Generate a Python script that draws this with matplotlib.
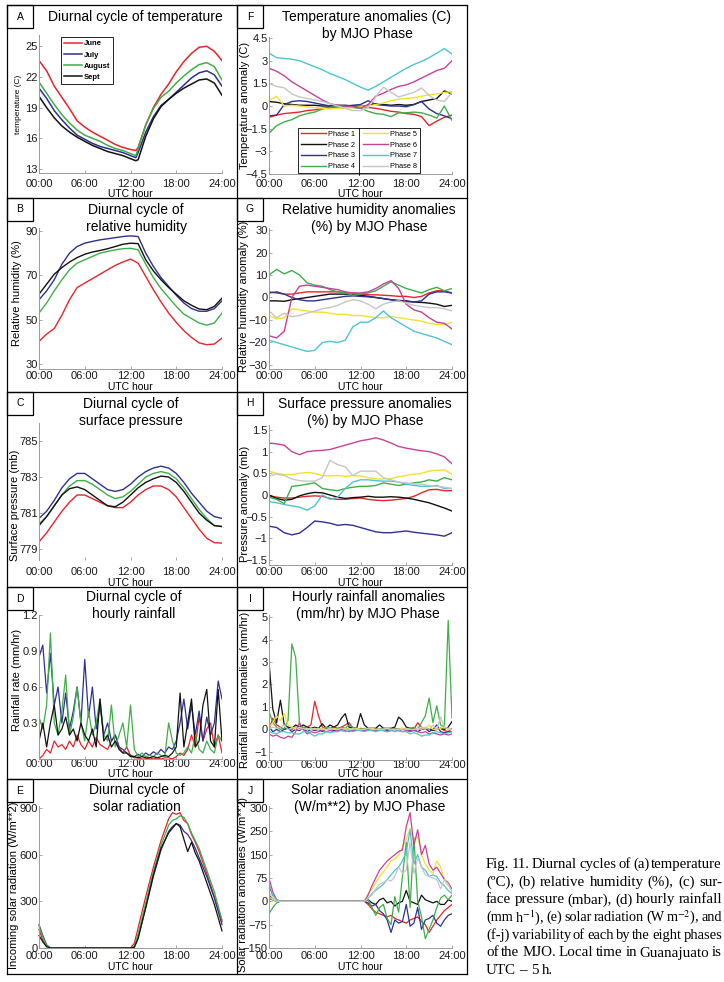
import matplotlib
matplotlib.use("Agg")
import matplotlib.pyplot as plt
from matplotlib.lines import Line2D
from matplotlib.patches import Rectangle

# ---------------------------------------------------------------------------
# data
hours = list(range(25))
hours_a = list(range(13)) + [12.7] + list(range(13, 25))
hours_half = [h / 2 for h in range(49)]
hours_e = [0, 0.5, 1, 1.5, 2, 12, 12.5, 13, 14, 15, 16, 17, 17.5, 18, 18.5, 19, 19.5, 20, 20.5, 21, 22, 23, 24]
hours_j = [0, 0.5, 1, 1.5, 2] + [12 + h / 2 for h in range(25)]

months = ["June", "July", "August", "Sept"]
phases = ["Phase 1", "Phase 2", "Phase 3", "Phase 4", "Phase 5", "Phase 6", "Phase 7", "Phase 8"]

# A: temperature (C)
temp_june = [23.6, 22.6, 21.1, 20.0, 18.9, 17.7, 17.1, 16.6, 16.2, 15.8, 15.4, 15.1, 14.9, 14.8,
             15.1, 17.3, 19.0, 20.3, 21.3, 22.5, 23.5, 24.3, 24.9, 25.0, 24.5, 23.6]
temp_july = [20.9, 19.9, 18.7, 17.8, 17.0, 16.3, 15.9, 15.5, 15.2, 15.0, 14.8, 14.6, 14.3, 14.1,
             14.6, 16.6, 18.1, 19.2, 19.8, 20.5, 21.2, 21.9, 22.4, 22.6, 22.2, 21.1]
temp_aug = [21.5, 20.4, 19.3, 18.3, 17.5, 16.8, 16.3, 16.0, 15.7, 15.3, 15.0, 14.8, 14.5, 14.3,
            15.0, 17.3, 18.9, 20.0, 20.6, 21.4, 22.1, 22.7, 23.2, 23.4, 23.0, 21.7]
temp_sept = [20.1, 19.0, 18.0, 17.2, 16.6, 16.1, 15.7, 15.3, 15.0, 14.7, 14.5, 14.3, 14.0, 13.8,
             13.9, 16.2, 17.9, 19.1, 19.8, 20.4, 20.9, 21.3, 21.7, 21.8, 21.4, 20.2]

# B: relative humidity (%)
rh_june = [40.2, 43.5, 46, 52, 59, 64.5, 66.5, 68.5, 70.5, 72.5, 74.5, 76, 77.3, 75.5, 69.5, 63.5,
           58, 53, 48.8, 45, 42, 39.5, 38.7, 39, 41.7]
rh_july = [59, 63, 68, 75, 80, 83, 84.5, 85.3, 86, 86.5, 87, 87.5, 87.8, 87.5, 80, 74, 69, 65, 61,
           57.5, 55, 53.8, 53.8, 55, 58.5]
rh_aug = [53, 57.5, 63, 68, 72.5, 75.5, 77, 78.5, 80, 80.8, 81.5, 82, 82.2, 81.5, 75, 69, 64, 60,
          56, 52.5, 50.5, 48.5, 47.5, 48.5, 53]
rh_sept = [61.5, 66, 70.5, 73.5, 76, 78, 79.5, 80.5, 81.2, 82, 83, 84, 84.5, 84.3, 77, 72, 68, 64.5,
           61.5, 58.5, 56.5, 54.8, 54.5, 56, 59.7]

# C: surface pressure (mb)
p_june = [779.4, 779.9, 780.5, 781.1, 781.6, 782.0, 782.0, 781.8, 781.6, 781.4, 781.3, 781.3, 781.6,
          782.0, 782.3, 782.5, 782.5, 782.3, 781.9, 781.3, 780.7, 780.1, 779.6, 779.35, 779.33]
p_july = [780.7, 781.1, 781.7, 782.4, 782.9, 783.2, 783.2, 782.9, 782.6, 782.3, 782.2, 782.3, 782.6,
          783.0, 783.3, 783.5, 783.6, 783.5, 783.2, 782.7, 782.1, 781.6, 781.1, 780.8, 780.7]
p_aug = [780.4, 780.8, 781.4, 782.0, 782.5, 782.8, 782.8, 782.6, 782.3, 782.0, 781.8, 781.9, 782.2,
         782.6, 783.0, 783.2, 783.3, 783.2, 782.9, 782.4, 781.8, 781.2, 780.7, 780.3, 780.25]
p_sept = [780.3, 780.8, 781.4, 782.0, 782.35, 782.45, 782.3, 782.0, 781.7, 781.4, 781.35, 781.6, 782.0,
          782.4, 782.7, 782.9, 783.05, 783.0, 782.7, 782.2, 781.6, 781.0, 780.6, 780.3, 780.25]

# D: hourly rainfall (mm/hr), half-hourly
rain_june = [0.0, 0.03, 0.08, 0.05, 0.15, 0.1, 0.12, 0.08, 0.15, 0.1,
             0.2, 0.12, 0.08, 0.15, 0.1, 0.18, 0.12, 0.1, 0.08, 0.15,
             0.2, 0.1, 0.05, 0.1, 0.03, 0.01, 0.01, 0.0, 0.0, 0.01,
             0.0, 0.01, 0.0, 0.01, 0.01, 0.0, 0.02, 0.05, 0.03, 0.08,
             0.2, 0.1, 0.35, 0.15, 0.25, 0.3, 0.1, 0.2, 0.05]
rain_july = [0.85, 0.95, 0.55, 0.88, 0.45, 0.6, 0.3, 0.55, 0.25, 0.4,
             0.6, 0.3, 0.83, 0.35, 0.6, 0.25, 0.45, 0.2, 0.3, 0.15,
             0.2, 0.1, 0.08, 0.05, 0.03, 0.02, 0.04, 0.02, 0.05, 0.03,
             0.06, 0.04, 0.08, 0.05, 0.1, 0.08, 0.15, 0.3, 0.5, 0.25,
             0.45, 0.2, 0.4, 0.15, 0.35, 0.2, 0.3, 0.65, 0.5]
rain_aug = [0.35, 0.25, 0.45, 1.05, 0.3, 0.2, 0.4, 0.7, 0.2, 0.35,
            0.6, 0.3, 0.15, 0.4, 0.2, 0.3, 0.5, 0.2, 0.15, 0.45,
            0.1, 0.2, 0.3, 0.1, 0.45, 0.08, 0.02, 0.05, 0.02, 0.03,
            0.02, 0.05, 0.03, 0.02, 0.3, 0.15, 0.05, 0.03, 0.05, 0.1,
            0.05, 0.2, 0.08, 0.05, 0.15, 0.08, 0.05, 0.2, 0.15]
rain_sept = [0.15, 0.3, 0.1, 0.3, 0.45, 0.2, 0.25, 0.35, 0.2, 0.25,
             0.15, 0.3, 0.2, 0.15, 0.25, 0.1, 0.5, 0.15, 0.2, 0.1,
             0.15, 0.08, 0.05, 0.05, 0.02, 0.02, 0.01, 0.02, 0.01, 0.01,
             0.02, 0.01, 0.02, 0.03, 0.02, 0.05, 0.1, 0.55, 0.1, 0.3,
             0.5, 0.1, 0.15, 0.45, 0.58, 0.15, 0.1, 0.58, 0.15]

# E: incoming solar radiation (W/m**2)
sol_june = [120, 50, 10, 0, 0, 0, 30, 130, 330, 520, 690, 830, 870, 860, 870, 820, 800, 730, 680, 620, 480, 330, 170]
sol_july = [150, 80, 20, 0, 0, 0, 5, 70, 260, 460, 630, 750, 780, 800, 790, 750, 730, 690, 640, 580, 460, 320, 150]
sol_aug = [140, 70, 15, 0, 0, 0, 10, 90, 290, 490, 660, 790, 820, 830, 850, 840, 800, 740, 690, 640, 500, 360, 180]
sol_sept = [80, 40, 8, 0, 0, 0, 5, 60, 260, 470, 640, 740, 770, 800, 780, 700, 620, 680, 610, 560, 420, 280, 110]

# F: temperature anomalies (C) by MJO phase, hourly
tanom = [
    [-0.75, -0.6, -0.5, -0.45, -0.4, -0.3, -0.25, -0.15, -0.1, -0.05, 0.0, 0.0, 0.0, -0.1, -0.15, -0.25,
     -0.35, -0.4, -0.5, -0.55, -0.7, -1.3, -1.0, -0.75, -0.6],
    [0.3, 0.25, 0.15, 0.1, 0.05, 0.05, 0.05, 0.0, 0.0, 0.05, 0.05, 0.0, -0.05, 0.05, 0.15, 0.1, 0.05,
     0.1, 0.05, 0.1, 0.3, 0.4, 0.5, 1.0, 0.8],
    [-0.65, -0.6, 0.1, 0.3, 0.35, 0.3, 0.2, 0.1, 0.0, -0.05, 0.0, 0.05, 0.1, 0.35, 0.1, 0.05, 0.0, 0.0,
     -0.05, 0.1, 0.3, -0.2, -0.5, -0.65, -0.85],
    [-1.8, -1.3, -1.05, -0.9, -0.65, -0.5, -0.4, -0.2, -0.1, 0.0, -0.05, -0.1, -0.15, -0.35, -0.5, -0.55,
     -0.7, -0.45, -0.45, -0.4, -0.45, -0.6, -0.8, 0.0, -0.95],
    [0.35, 0.65, 0.0, 0.05, 0.0, -0.05, -0.1, -0.15, -0.2, -0.15, -0.15, -0.1, -0.05, 0.0, 0.1, 0.2, 0.35,
     0.45, 0.5, 0.55, 0.65, 0.75, 0.8, 0.9, 0.95],
    [2.5, 2.3, 2.0, 1.6, 1.3, 1.0, 0.7, 0.4, 0.15, 0.05, 0.0, -0.05, -0.15, 0.1, 0.65, 0.85, 1.1, 1.3, 1.4,
     1.6, 1.85, 2.1, 2.35, 2.5, 3.0],
    [3.5, 3.2, 3.15, 3.1, 3.0, 2.8, 2.6, 2.4, 2.15, 1.95, 1.75, 1.5, 1.25, 1.05, 1.3, 1.6, 1.9, 2.2, 2.5,
     2.75, 2.95, 3.2, 3.5, 3.8, 3.45],
    [1.5, 1.3, 1.2, 0.8, 0.6, 0.5, 0.4, 0.3, 0.15, 0.0, -0.15, -0.3, -0.3, -0.1, 0.6, 1.25, 0.9, 0.6, 0.75,
     0.9, 1.2, 0.7, 0.4, 0.3, 0.9],
]

# G: relative humidity anomalies (%) by MJO phase, hourly
rhanom = [
    [2.5, 2, 1.5, 1.5, 2, 2.5, 2.5, 2.5, 2.5, 2.5, 2.2, 2, 1.5, 1.2, 1.2, 1, 0.8, 0.5, 0.5, 0, 0.5, 2, 3, 3, 2],
    [-1.5, -1.5, -1.7, -1, -0.5, 0, 0.5, 1, 1.5, 1.5, 1.5, 1.2, 1, 0.5, 0, -0.5, -1, -1.3, -1.5, -2, -2.2,
     -2.5, -3, -4, -3.5],
    [2, 2.5, 1.5, 0, -1, -1.5, -1.5, -1, -0.5, 0, 0.5, 0.7, 0.5, 0.3, 0, -0.5, -1, -1.5, -1.8, -2, -1.5,
     1.5, 2.5, 2.5, 2],
    [10, 12.5, 10.5, 12, 10, 6.5, 5.5, 5, 3.5, 2.5, 2, 1, 1.5, 2, 3, 5, 7, 5.5, 4, 3, 2, 3.5, 4.5, 3, 4],
    [-8, -9.5, -9, -5, -5.5, -6, -6.5, -6.5, -7, -7.5, -7.5, -8, -8, -8.5, -9, -9, -8.5, -9, -9.5, -10,
     -10.5, -11.5, -12, -12, -11],
    [-17, -18, -15, 0, 5, 5.5, 5, 4.5, 4, 3.5, 2.5, 2, 2, 2.5, 4, 6, 7.5, 4, -3, -5.5, -6.5, -9, -11, -11.5, -14],
    [-19, -20, -21, -22, -23, -24, -23.5, -20, -19.5, -20, -19, -13, -11, -11, -9, -6, -9, -11, -13, -15,
     -16, -17, -18, -19.5, -21],
    [-6, -9, -7, -8.5, -8, -7, -6, -5, -4.5, -3.5, -2, -1, -1.5, -3, -5, -3, -2, -1.5, -2.5, -3.5, -4,
     -4.5, -4.5, -5, -6],
]

# H: surface pressure anomalies (mb) by MJO phase, hourly
panom = [
    [-0.02, -0.05, -0.07, -0.07, -0.05, -0.03, -0.02, -0.03, -0.08, -0.1, -0.1, -0.08, -0.07, -0.1, -0.12,
     -0.13, -0.12, -0.1, -0.08, -0.03, 0.05, 0.12, 0.13, 0.1, 0.1],
    [0.0, -0.08, -0.12, -0.1, -0.02, 0.03, 0.06, 0.05, 0.0, -0.05, -0.08, -0.06, -0.05, -0.03, -0.05, -0.05,
     -0.04, -0.05, -0.07, -0.1, -0.14, -0.18, -0.24, -0.3, -0.37],
    [-0.72, -0.75, -0.87, -0.92, -0.88, -0.75, -0.6, -0.62, -0.65, -0.7, -0.68, -0.7, -0.75, -0.8, -0.85,
     -0.87, -0.87, -0.85, -0.83, -0.86, -0.88, -0.9, -0.92, -0.95, -0.87],
    [-0.05, -0.1, -0.2, 0.2, 0.22, 0.25, 0.28, 0.15, 0.12, 0.1, 0.15, 0.18, 0.2, 0.2, 0.22, 0.28, 0.25,
     0.22, 0.25, 0.28, 0.3, 0.35, 0.32, 0.4, 0.35],
    [0.55, 0.5, 0.47, 0.47, 0.5, 0.52, 0.5, 0.45, 0.44, 0.45, 0.43, 0.45, 0.44, 0.4, 0.37, 0.37, 0.38,
     0.42, 0.45, 0.48, 0.5, 0.55, 0.57, 0.58, 0.48],
    [1.2, 1.18, 1.15, 1.0, 0.93, 1.0, 1.02, 1.03, 1.05, 1.1, 1.15, 1.2, 1.25, 1.28, 1.32, 1.27, 1.2, 1.12,
     1.08, 1.05, 1.02, 1.0, 0.95, 0.88, 0.72],
    [-0.15, -0.18, -0.22, -0.25, -0.28, -0.35, -0.25, 0.0, -0.1, -0.05, 0.15, 0.3, 0.35, 0.35, 0.33, 0.32,
     0.32, 0.3, 0.25, 0.22, 0.2, 0.2, 0.22, 0.15, 0.15],
    [0.44, 0.48, 0.45, 0.37, 0.33, 0.32, 0.32, 0.4, 0.8, 0.7, 0.65, 0.45, 0.55, 0.55, 0.55, 0.4, 0.35, 0.3,
     0.28, 0.25, 0.25, 0.22, 0.2, 0.18, 0.15],
]

# I: hourly rainfall anomalies (mm/hr) by MJO phase, half-hourly
rainanom = [
    [0.0, 0.5, 0.2, 0.1, 0.0, 0.1, 0.0, 0.1, 0.05, 0.0, 0.1, 0.2, 1.25, 0.6, 0.1, 0.0, 0.05, 0.1, 0.05, 0.1,
     0.2, 0.3, 0.05, 0.0, 0.05, 0.0, 0.02, 0.0, 0.02, 0.0, 0.0, 0.02, 0.0, 0.0, 0.02, 0.0, 0.0, 0.05, 0.0,
     0.3, 0.1, 0.0, 0.02, 0.0, 0.0, 0.05, -0.05, -0.1, 0.05],
    [3.0, 0.9, 0.3, 1.3, 0.2, 0.1, 0.05, 0.2, 0.1, 0.2, 0.1, 0.05, 0.1, 0.05, 0.25, 0.05, 0.2, 0.1, 0.2, 0.5,
     0.7, 0.1, 0.05, 0.05, 0.7, 0.2, 0.05, 0.05, 0.05, 0.2, 0.05, 0.05, 0.05, 0.1, 0.55, 0.4, 0.1, 0.05, 0.0,
     0.05, 0.0, 0.05, 0.0, -0.05, 0.0, 0.05, 0.0, 0.1, 0.35],
    [0.1, -0.1, 0.0, -0.1, 0.0, 0.05, -0.1, 0.0, -0.05, 0.05, -0.1, 0.0, -0.05, 0.0, -0.1, 0.05, 0.0, -0.05,
     0.0, -0.05, 0.05, 0.0, -0.05, 0.0, 0.0, -0.05, 0.0, 0.0, -0.05, 0.0, 0.0, -0.05, 0.0, 0.0, -0.05, 0.0,
     0.0, -0.05, 0.0, -0.1, 0.0, 0.05, -0.1, 0.0, 0.2, -0.1, -0.15, -0.1, -0.1],
    [0.8, 0.3, 0.1, 0.0, 0.05, 0.4, 3.8, 3.2, 0.2, 0.1, 0.05, 0.0, 0.05, 0.0, 0.05, 0.1, 0.05, 0.0, 0.05,
     0.1, 0.05, 0.2, 0.1, 0.05, 0.0, 0.05, 0.0, 0.05, 0.0, 0.0, 0.05, 0.0, 0.0, 0.05, 0.0, 0.05, 0.0, 0.05,
     0.1, 0.0, 0.3, 0.6, 1.4, 0.3, 1.05, 0.2, 0.1, 4.85, 0.5],
    [0.1, 0.3, 0.6, 0.4, 0.7, 0.2, 0.1, 0.0, 0.1, 0.0, 0.05, 0.0, 0.05, 0.0, 0.05, 0.0, 0.0, 0.05, 0.0, 0.0,
     0.05, 0.0, 0.0, 0.05, 0.0, 0.0, 0.0, 0.05, 0.0, 0.0, 0.0, 0.05, 0.0, 0.0, 0.0, 0.05, 0.0, 0.0, 0.0, 0.0,
     0.1, 0.0, 0.2, 0.0, 0.0, 0.05, 0.1, 0.0, 0.0],
    [-0.2, -0.3, -0.25, -0.35, -0.4, -0.3, -0.35, -0.1, 0.3, 0.0, -0.2, -0.1, -0.15, -0.1, -0.05, -0.1,
     -0.05, -0.1, -0.05, 0.0, -0.05, -0.1, -0.05, 0.0, -0.05, -0.05, 0.0, -0.05, -0.05, 0.0, -0.05, -0.1,
     -0.05, 0.0, -0.05, -0.1, -0.05, -0.1, -0.05, -0.1, -0.15, -0.1, -0.2, -0.15, -0.2, -0.25, -0.2, -0.25, -0.2],
    [-0.1, -0.15, -0.2, -0.1, -0.1, -0.15, -0.15, -0.2, -0.2, -0.1, -0.1, -0.2, -0.3, -0.2, -0.2, -0.1,
     -0.15, -0.1, -0.1, -0.05, -0.1, -0.05, -0.1, -0.05, -0.05, -0.1, -0.05, -0.05, -0.1, -0.05, -0.05,
     -0.1, -0.05, -0.1, -0.05, -0.1, -0.1, -0.2, -0.15, -0.2, -0.3, -0.25, -0.25, -0.15, -0.1, -0.15, -0.2,
     -0.15, -0.1],
    [0.0, 0.1, 0.05, 0.1, 0.2, 0.0, 0.05, 0.1, 0.0, 0.05, 0.0, 0.05, 0.0, 0.05, 0.0, 0.0, 0.05, 0.0, 0.0,
     0.05, 0.0, 0.0, 0.05, 0.0, 0.0, 0.0, 0.05, 0.0, 0.0, 0.0, 0.0, 0.05, 0.0, 0.0, 0.0, 0.0, 0.05, 0.0, 0.0,
     0.05, 0.0, 0.1, 0.0, 0.2, 0.0, 0.55, 0.1, 0.05, 0.0],
]

# J: solar radiation anomalies (W/m**2) by MJO phase
solanom = [
    [50, 20, 5, 0, 0, 0, 0, -10, -25, -35, -40, -45, -50, -45, -55, -60, -65, -70, -60, -55, -50, -65, -75,
     -100, -80, -60, -45, -30, -20, -10],
    [10, 5, 0, 0, 0, 0, 0, 5, -5, -10, 5, 10, -5, 0, -15, -5, 0, 35, 0, -5, -10, 20, 5, 0, -5, 0, -10, -10, 5, 0],
    [20, 5, 0, 0, 0, 0, 0, -5, -15, -10, -30, -40, -60, -100, -60, -70, -65, -10, -80, -70, -20, -90, -60,
     -55, -45, -70, -80, -60, -45, -40],
    [-40, -20, -5, 0, 0, 0, 0, 5, -20, -45, -20, -10, -55, -75, 15, -35, 80, 190, -20, 205, 0, -50, -120,
     -90, -60, -20, 10, 20, 5, 20],
    [15, 5, 0, 0, 0, 0, 0, 25, 40, 60, 80, 95, 110, 130, 135, 150, 175, 200, 235, 190, 210, 150, 120, 100,
     90, 130, 110, 70, 50, 40],
    [75, 30, 5, 0, 0, 0, 0, 20, 50, 75, 100, 115, 130, 140, 150, 160, 165, 240, 285, 180, 230, 150, 180,
     120, 100, 110, 90, 70, 60, 40],
    [60, 20, 5, 0, 0, 0, 0, 10, 25, 35, 45, 55, 70, 85, 100, 110, 130, 160, 230, 120, 150, 110, 100, 80, 85,
     80, 60, 50, 35, 25],
    [30, 10, 0, 0, 0, 0, 0, 10, 20, 40, 55, 60, 70, 65, 80, 110, 90, 100, 190, 90, 140, 110, 85, 80, 75, 70,
     40, 70, 55, 30],
]

hour_ticks = [0, 6, 12, 18, 24]
hour_labels = ["00:00", "06:00", "12:00", "18:00", "24:00"]

caption = [
    "Fig. 11. Diurnal cycles of (a) temperature",
    "(\u00baC), (b) relative humidity (%), (c) sur-",
    "face pressure (mbar), (d) hourly rainfall",
    "(mm h$^{-1}$), (e) solar radiation (W m$^{-2}$), and",
    "(f-j) variability of each by the eight phases",
    "of the MJO. Local time in Guanajuato is",
    "UTC \u2013 5 h.",
]

# ---------------------------------------------------------------------------
month_colors = ["#e4252b", "#2e3192", "#3fae49", "#111111"]
phase_colors = ["#e4252b", "#111111", "#2e3192", "#3fae49", "#f2e22a", "#c7419b", "#4cc4d4", "#c6c6c6"]

W, H = 724, 982
plt.rcParams["font.family"] = ["Liberation Sans", "DejaVu Sans"]
plt.rcParams["mathtext.fontset"] = "stix"
fig = plt.figure(figsize=(W / 100, H / 100), dpi=100)


def fmt(v):
    return f"{v:g}".replace("-", "\u2212")


def panel(box, ylim, yticks, ylabel, ylab_xy, xtick_y, xlab_y, ylab_size=8, bottom=True, ytick_labels=None):
    l, t, r, b = box
    ax = fig.add_axes([l / W, 1 - b / H, (r - l) / W, (b - t) / H])
    ax.patch.set_alpha(0)
    ax.set_xlim(0, 24)
    ax.set_ylim(*ylim)
    ax.set_xticks(hour_ticks)
    ax.set_xticklabels(hour_labels)
    ax.set_yticks(yticks)
    ax.set_yticklabels(ytick_labels if ytick_labels else [fmt(v) for v in yticks])
    for s in ["top", "right"]:
        ax.spines[s].set_visible(False)
    ax.spines["bottom"].set_visible(bottom)
    for s in ["left", "bottom"]:
        ax.spines[s].set_color("#9a9a9a")
        ax.spines[s].set_linewidth(0.7)
    ax.tick_params(direction="in", length=2.5, width=0.6, color="#9a9a9a", labelsize=8,
                   labelcolor="#1a1a1a")
    ax.tick_params(axis="y", pad=1)
    ax.tick_params(axis="x", pad=max(0.0, (xtick_y - b - 5.0) * 0.72))
    ax.set_xlabel("UTC hour", fontsize=7.5)
    ax.xaxis.set_label_coords(0.5, -(xlab_y - b) / (b - t))
    ax.xaxis.label.set_va("center")
    ax.set_ylabel(ylabel, fontsize=ylab_size)
    ax.yaxis.set_label_coords((ylab_xy[0] - l) / (r - l), (b - ylab_xy[1]) / (b - t))
    ax.yaxis.label.set_va("center")
    return ax


def title(x, y, text):
    fig.text(x / W, 1 - y / H, text, ha="center", va="center", fontsize=10, linespacing=1.2)


# ---------------------------------------------------------------------------
# A: temperature
ax = panel((39, 35, 222, 173), (12.6, 26.1), [13, 16, 19, 22, 25], "temperature (C)", (18, 104), 184, 194,
           ylab_size=6)
for name, vals, c in zip(months, [temp_june, temp_july, temp_aug, temp_sept], month_colors):
    ax.plot(hours_a, vals, color=c, lw=1.1, label=name)
leg = ax.legend(loc="upper left", bbox_to_anchor=((61 - 39) / 183, 1 - 2 / 138), borderaxespad=0,
                prop={"size": 5.5, "weight": "bold"}, fancybox=False, edgecolor="black", framealpha=1,
                borderpad=0.4, labelspacing=0.5, handlelength=2.4, handletextpad=0.15)
leg.get_frame().set_linewidth(0.6)
title(135, 17, "Diurnal cycle of temperature")

# B: relative humidity
ax = panel((39, 228, 222, 369), (27.74, 91.35), [30, 50, 70, 90], "Relative humidity (%)", (17, 293), 376, 387)
for vals, c in zip([rh_june, rh_july, rh_aug, rh_sept], month_colors):
    ax.plot(hours, vals, color=c, lw=1.0)
title(136, 218.5, "Diurnal cycle of\nrelative humidity")

# C: surface pressure
ax = panel((39, 423, 222, 560), (778.39, 786.0), [779, 781, 783, 785], "Surface pressure (mb)", (15, 505),
           572, 583, bottom=False)
for vals, c in zip([p_june, p_july, p_aug, p_sept], month_colors):
    ax.plot(hours, vals, color=c, lw=1.0)
title(131, 412.5, "Diurnal cycle of\nsurface pressure")

# D: hourly rainfall
ax = panel((39, 615, 222, 759), (0, 1.2), [0.3, 0.6, 0.9, 1.2], "Rainfall rate (mm/hr)", (17, 680), 763, 774)
for vals, c in zip([rain_june, rain_july, rain_aug, rain_sept], month_colors):
    ax.plot(hours_half, vals, color=c, lw=0.9)
title(134, 605.5, "Diurnal cycle of\nhourly rainfall")

# E: solar radiation
ax = panel((39, 806, 222, 948), (0, 913), [0, 300, 600, 900], "Incoming solar radiation (W/m**2)", (14, 885),
           956, 967)
for vals, c in zip([sol_june, sol_july, sol_aug, sol_sept], month_colors):
    ax.plot(hours_e, vals, color=c, lw=0.9, clip_on=False)
title(137, 798.5, "Diurnal cycle of\nsolar radiation")

# F: temperature anomalies
ax = panel((269, 37, 452, 174), (-4.5, 4.57), [-4.5, -3, -1.5, 0, 1.5, 3, 4.5], "Temperature anomaly (C)",
           (245, 105), 184, 194)
for name, vals, c in zip(phases, tanom, phase_colors):
    ax.plot(hours, vals, color=c, lw=1.0, label=name)
leg = ax.legend(ncol=2, loc="upper left", bbox_to_anchor=((298 - 269) / 183, (174 - 128) / 137),
                borderaxespad=0, fontsize=5.3, fancybox=False, edgecolor="black", framealpha=1,
                borderpad=0.35, labelspacing=0.5, handlelength=3.4, handletextpad=0.35, columnspacing=1.0)
leg.get_frame().set_linewidth(0.6)
fig.add_artist(Line2D([359 / W, 359 / W], [1 - 128 / H, 1 - 175 / H], color="black", lw=0.6))
title(367, 25.5, "Temperature anomalies (C)\nby MJO Phase")

# G: relative humidity anomalies
ax = panel((269, 228, 452, 369), (-31.8, 30.9), [-30, -20, -10, 0, 10, 20, 30], "Relative humidity anomaly (%)",
           (244, 296), 376, 387)
for vals, c in zip(rhanom, phase_colors):
    ax.plot(hours, vals, color=c, lw=1.0)
title(369, 218.5, "Relative humidity anomalies\n(%) by MJO Phase")

# H: surface pressure anomalies
ax = panel((269, 425, 452, 565), (-1.615, 1.615), [-1.5, -1, -0.5, 0, 0.5, 1, 1.5], "Pressure anomaly (mb)",
           (245, 504), 572, 583)
for vals, c in zip(panom, phase_colors):
    ax.plot(hours, vals, color=c, lw=1.0)
title(365, 412.5, "Surface pressure anomalies\n(%) by MJO Phase")

# I: rainfall anomalies
ax = panel((269, 615, 452, 760), (-1.36, 5.09), [-1, 0, 1, 2, 3, 4, 5], "Rainfall rate anomalies (mm/hr)",
           (245, 690), 764, 774)
for vals, c in zip(rainanom, phase_colors):
    ax.plot(hours_half, vals, color=c, lw=0.9)
title(368, 605.5, "Hourly rainfall anomalies\n(mm/hr) by MJO Phase")

# J: solar radiation anomalies
ax = panel((269, 806, 452, 948), (-150, 306.4), [-150, -75, 0, 75, 150, 225, 300],
           "Solar radiation anomalies (W/m**2)", (243, 885), 956, 967,
           ytick_labels=["\u2212150", "\u221275", "0", "75", "150", "250", "300"])
for vals, c in zip(solanom, phase_colors):
    ax.plot(hours_j, vals, color=c, lw=0.9)
title(370, 798.5, "Solar radiation anomalies\n(W/m**2) by MJO Phase")

# ---------------------------------------------------------------------------
# panel frames and letter boxes
row_tops = [5, 198, 392, 587, 779, 974]
for y in row_tops:
    fig.add_artist(Line2D([7 / W, 467 / W], [1 - y / H, 1 - y / H], color="black", lw=0.9))
for x in [7, 237, 467]:
    fig.add_artist(Line2D([x / W, x / W], [1 - 5 / H, 1 - 974 / H], color="black", lw=0.9))
letters_left = ["A", "B", "C", "D", "E"]
letters_right = ["F", "G", "H", "I", "J"]
for i, top in enumerate(row_tops[:5]):
    for x0, x1, letter in [(7, 33, letters_left[i]), (237, 263, letters_right[i])]:
        fig.add_artist(Rectangle((x0 / W, 1 - (top + 23) / H), (x1 - x0) / W, 23 / H, fill=False,
                                 edgecolor="black", lw=0.9))
        fig.text((x0 + x1) / 2 / W, 1 - (top + 11.5) / H, letter, ha="center", va="center", fontsize=7.5)

# caption, justified between two margins
cap_left, cap_right, cap_top, cap_step = 486, 722, 864.5, 17.7
renderer = fig.canvas.get_renderer()
for i, line in enumerate(caption):
    y = 1 - (cap_top + i * cap_step) / H
    words = line.split(" ")
    size = 10.8
    texts = [fig.text(0, y, w, ha="left", va="center", fontsize=size, family="Liberation Serif") for w in words]
    widths = [t.get_window_extent(renderer).width for t in texts]
    if i < len(caption) - 1:
        min_total = sum(widths) + 2.2 * (len(words) - 1)
        if min_total > cap_right - cap_left:
            size *= (cap_right - cap_left - 2.2 * (len(words) - 1)) / sum(widths)
            for t in texts:
                t.set_fontsize(size)
            widths = [t.get_window_extent(renderer).width for t in texts]
        gap = (cap_right - cap_left - sum(widths)) / (len(words) - 1)
    else:
        gap = 3.6
    x = cap_left
    for t, w in zip(texts, widths):
        t.set_x(x / W)
        x += w + gap

fig.savefig("out.png", dpi=100)
